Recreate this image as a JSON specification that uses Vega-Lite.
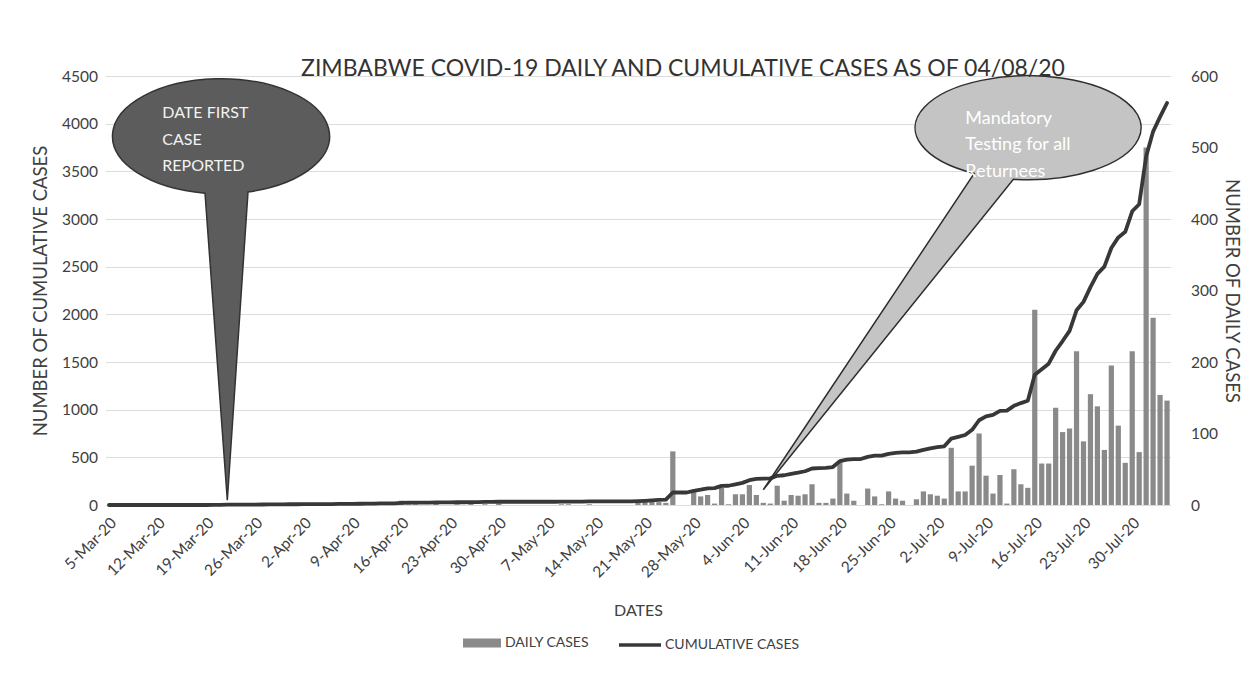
{
  "$schema": "https://vega.github.io/schema/vega-lite/v6.json",
  "width": 1065,
  "height": 429,
  "autosize": {"type": "none"},
  "padding": {"left": 105.5, "top": 76, "right": 81.5, "bottom": 177},
  "background": "white",
  "title": {"text": "ZIMBABWE COVID-19 DAILY AND CUMULATIVE CASES AS OF 04/08/20", "font": "Lato", "fontSize": 23, "fontWeight": "normal", "color": "#333333", "anchor": "middle", "dx": 45, "dy": 33, "offset": 3, "baseline": "alphabetic"},
  "config": {
    "font": "Lato",
    "view": {"stroke": null},
    "axis": {"labelFont": "Lato", "titleFont": "Lato", "labelColor": "#404040", "titleColor": "#404040", "titleFontWeight": "normal", "domain": false, "ticks": false, "labelFontSize": 15.5, "titleFontSize": 18.5, "gridColor": "#dcdcdc", "gridWidth": 1},
    "legend": {"labelFont": "Lato", "labelFontSize": 14, "labelColor": "#404040"}
  },
  "datasets": {
    "covid": [
      {"date":"5-Mar-20","daily":0,"cum":0},{"date":"6-Mar-20","daily":0,"cum":0},{"date":"7-Mar-20","daily":0,"cum":0},{"date":"8-Mar-20","daily":0,"cum":0},{"date":"9-Mar-20","daily":0,"cum":0},{"date":"10-Mar-20","daily":0,"cum":0},{"date":"11-Mar-20","daily":0,"cum":0},{"date":"12-Mar-20","daily":0,"cum":0},{"date":"13-Mar-20","daily":0,"cum":0},{"date":"14-Mar-20","daily":0,"cum":0},{"date":"15-Mar-20","daily":0,"cum":0},{"date":"16-Mar-20","daily":0,"cum":0},{"date":"17-Mar-20","daily":0,"cum":0},{"date":"18-Mar-20","daily":0,"cum":0},{"date":"19-Mar-20","daily":0,"cum":0},
      {"date":"20-Mar-20","daily":1,"cum":1},{"date":"21-Mar-20","daily":1,"cum":2},{"date":"22-Mar-20","daily":1,"cum":3},{"date":"23-Mar-20","daily":0,"cum":3},{"date":"24-Mar-20","daily":0,"cum":3},{"date":"25-Mar-20","daily":0,"cum":3},{"date":"26-Mar-20","daily":0,"cum":3},{"date":"27-Mar-20","daily":2,"cum":5},{"date":"28-Mar-20","daily":2,"cum":7},{"date":"29-Mar-20","daily":0,"cum":7},{"date":"30-Mar-20","daily":0,"cum":7},{"date":"31-Mar-20","daily":1,"cum":8},
      {"date":"1-Apr-20","daily":0,"cum":8},{"date":"2-Apr-20","daily":1,"cum":9},{"date":"3-Apr-20","daily":0,"cum":9},{"date":"4-Apr-20","daily":0,"cum":9},{"date":"5-Apr-20","daily":0,"cum":9},{"date":"6-Apr-20","daily":1,"cum":10},{"date":"7-Apr-20","daily":1,"cum":11},{"date":"8-Apr-20","daily":0,"cum":11},{"date":"9-Apr-20","daily":0,"cum":11},{"date":"10-Apr-20","daily":2,"cum":13},{"date":"11-Apr-20","daily":1,"cum":14},{"date":"12-Apr-20","daily":0,"cum":14},{"date":"13-Apr-20","daily":3,"cum":17},{"date":"14-Apr-20","daily":0,"cum":17},{"date":"15-Apr-20","daily":0,"cum":17},{"date":"16-Apr-20","daily":6,"cum":23},{"date":"17-Apr-20","daily":1,"cum":24},{"date":"18-Apr-20","daily":1,"cum":25},{"date":"19-Apr-20","daily":0,"cum":25},{"date":"20-Apr-20","daily":0,"cum":25},{"date":"21-Apr-20","daily":3,"cum":28},{"date":"22-Apr-20","daily":0,"cum":28},{"date":"23-Apr-20","daily":0,"cum":28},{"date":"24-Apr-20","daily":1,"cum":29},{"date":"25-Apr-20","daily":0,"cum":29},{"date":"26-Apr-20","daily":2,"cum":31},{"date":"27-Apr-20","daily":0,"cum":31},{"date":"28-Apr-20","daily":1,"cum":32},{"date":"29-Apr-20","daily":0,"cum":32},{"date":"30-Apr-20","daily":2,"cum":34},
      {"date":"1-May-20","daily":0,"cum":34},{"date":"2-May-20","daily":0,"cum":34},{"date":"3-May-20","daily":0,"cum":34},{"date":"4-May-20","daily":0,"cum":34},{"date":"5-May-20","daily":0,"cum":34},{"date":"6-May-20","daily":0,"cum":34},{"date":"7-May-20","daily":0,"cum":34},{"date":"8-May-20","daily":0,"cum":34},{"date":"9-May-20","daily":1,"cum":35},{"date":"10-May-20","daily":1,"cum":36},{"date":"11-May-20","daily":0,"cum":36},{"date":"12-May-20","daily":0,"cum":36},{"date":"13-May-20","daily":1,"cum":37},{"date":"14-May-20","daily":0,"cum":37},{"date":"15-May-20","daily":0,"cum":37},{"date":"16-May-20","daily":0,"cum":37},{"date":"17-May-20","daily":0,"cum":37},{"date":"18-May-20","daily":0,"cum":37},{"date":"19-May-20","daily":0,"cum":37},{"date":"20-May-20","daily":3,"cum":40},{"date":"21-May-20","daily":4,"cum":44},{"date":"22-May-20","daily":5,"cum":49},{"date":"23-May-20","daily":4,"cum":53},{"date":"24-May-20","daily":3,"cum":56},{"date":"25-May-20","daily":75,"cum":131},{"date":"26-May-20","daily":0,"cum":131},{"date":"27-May-20","daily":0,"cum":131},{"date":"28-May-20","daily":18,"cum":149},{"date":"29-May-20","daily":12,"cum":161},{"date":"30-May-20","daily":14,"cum":175},{"date":"31-May-20","daily":2,"cum":177},
      {"date":"1-Jun-20","daily":24,"cum":201},{"date":"2-Jun-20","daily":1,"cum":202},{"date":"3-Jun-20","daily":15,"cum":217},{"date":"4-Jun-20","daily":15,"cum":232},{"date":"5-Jun-20","daily":28,"cum":260},{"date":"6-Jun-20","daily":14,"cum":274},{"date":"7-Jun-20","daily":3,"cum":277},{"date":"8-Jun-20","daily":2,"cum":279},{"date":"9-Jun-20","daily":27,"cum":306},{"date":"10-Jun-20","daily":6,"cum":312},{"date":"11-Jun-20","daily":14,"cum":326},{"date":"12-Jun-20","daily":13,"cum":339},{"date":"13-Jun-20","daily":15,"cum":354},{"date":"14-Jun-20","daily":29,"cum":383},{"date":"15-Jun-20","daily":3,"cum":386},{"date":"16-Jun-20","daily":3,"cum":389},{"date":"17-Jun-20","daily":9,"cum":398},{"date":"18-Jun-20","daily":62,"cum":460},{"date":"19-Jun-20","daily":16,"cum":476},{"date":"20-Jun-20","daily":6,"cum":482},{"date":"21-Jun-20","daily":0,"cum":482},{"date":"22-Jun-20","daily":23,"cum":505},{"date":"23-Jun-20","daily":12,"cum":517},{"date":"24-Jun-20","daily":1,"cum":518},{"date":"25-Jun-20","daily":19,"cum":537},{"date":"26-Jun-20","daily":9,"cum":546},{"date":"27-Jun-20","daily":6,"cum":552},{"date":"28-Jun-20","daily":0,"cum":552},{"date":"29-Jun-20","daily":8,"cum":560},{"date":"30-Jun-20","daily":19,"cum":579},
      {"date":"1-Jul-20","daily":15,"cum":594},{"date":"2-Jul-20","daily":13,"cum":607},{"date":"3-Jul-20","daily":9,"cum":616},{"date":"4-Jul-20","daily":80,"cum":696},{"date":"5-Jul-20","daily":19,"cum":715},{"date":"6-Jul-20","daily":19,"cum":734},{"date":"7-Jul-20","daily":55,"cum":789},{"date":"8-Jul-20","daily":100,"cum":889},{"date":"9-Jul-20","daily":41,"cum":930},{"date":"10-Jul-20","daily":16,"cum":946},{"date":"11-Jul-20","daily":42,"cum":988},{"date":"12-Jul-20","daily":2,"cum":990},{"date":"13-Jul-20","daily":50,"cum":1040},{"date":"14-Jul-20","daily":29,"cum":1069},{"date":"15-Jul-20","daily":24,"cum":1093},{"date":"16-Jul-20","daily":273,"cum":1366},{"date":"17-Jul-20","daily":58,"cum":1424},{"date":"18-Jul-20","daily":58,"cum":1482},{"date":"19-Jul-20","daily":136,"cum":1618},{"date":"20-Jul-20","daily":102,"cum":1720},{"date":"21-Jul-20","daily":107,"cum":1827},{"date":"22-Jul-20","daily":215,"cum":2042},{"date":"23-Jul-20","daily":89,"cum":2131},{"date":"24-Jul-20","daily":155,"cum":2286},{"date":"25-Jul-20","daily":138,"cum":2424},{"date":"26-Jul-20","daily":77,"cum":2501},{"date":"27-Jul-20","daily":195,"cum":2696},{"date":"28-Jul-20","daily":111,"cum":2807},{"date":"29-Jul-20","daily":59,"cum":2866},{"date":"30-Jul-20","daily":215,"cum":3081},{"date":"31-Jul-20","daily":74,"cum":3155},
      {"date":"1-Aug-20","daily":500,"cum":3655},{"date":"2-Aug-20","daily":262,"cum":3917},{"date":"3-Aug-20","daily":154,"cum":4071},{"date":"4-Aug-20","daily":146,"cum":4217}
    ]
  },
  "data": {"name": "covid"},
  "layer": [
    {
      "mark": {"type": "bar"},
      "encoding": {
        "x": {"field": "date", "type": "ordinal", "sort": null,
              "scale": {"paddingInner": 0.25, "paddingOuter": 0.125},
              "axis": {"values": ["5-Mar-20","12-Mar-20","19-Mar-20","26-Mar-20","2-Apr-20","9-Apr-20","16-Apr-20","23-Apr-20","30-Apr-20","7-May-20","14-May-20","21-May-20","28-May-20","4-Jun-20","11-Jun-20","18-Jun-20","25-Jun-20","2-Jul-20","9-Jul-20","16-Jul-20","23-Jul-20","30-Jul-20"],
                       "labelAngle": -45, "labelPadding": 10, "labelOverlap": false, "labelBound": false, "title": "DATES", "titlePadding": 22, "titleFontSize": 16, "grid": false}},
        "y": {"field": "daily", "type": "quantitative", "scale": {"domain": [0, 600], "nice": false},
              "axis": {"orient": "right", "values": [0,100,200,300,400,500,600], "format": "d", "grid": false, "title": "NUMBER OF DAILY CASES", "labelPadding": 20, "titlePadding": 4}},
        "fill": {"datum": "DAILY CASES", "scale": {"range": ["#8a8a8a"]},
                 "legend": {"orient": "none", "legendX": 363.5, "legendY": 554, "title": null, "symbolType": "M-1.5,-0.35H1.5V0.35H-1.5Z", "symbolSize": 640, "symbolStrokeWidth": 0, "labelOffset": 10}}
      }
    },
    {
      "mark": {"type": "line", "strokeWidth": 3.8, "strokeJoin": "round", "strokeCap": "round"},
      "encoding": {
        "x": {"field": "date", "type": "ordinal", "sort": null},
        "y": {"field": "cum", "type": "quantitative", "scale": {"domain": [0, 4500], "nice": false},
              "axis": {"orient": "left", "values": [0,500,1000,1500,2000,2500,3000,3500,4000,4500], "format": "d", "grid": true, "title": "NUMBER OF CUMULATIVE CASES", "labelPadding": 8, "titlePadding": 11}},
        "stroke": {"datum": "CUMULATIVE CASES", "scale": {"range": ["#383838"]},
                   "legend": {"orient": "none", "legendX": 511.5, "legendY": 546, "title": null, "symbolType": "stroke", "symbolSize": 1764, "symbolStrokeWidth": 3.5, "labelOffset": 2}}
      }
    },
    {
      "transform": [{"filter": "datum.date === '22-Mar-20'"}],
      "mark": {"type": "point", "shape": "M-22.3,-307.1C-77.5,-311.5,-117.4,-337.3,-114.7,-366.8C-112,-396.3,-67.5,-419.9,-11.9,-421.4C43.8,-422.9,92.6,-401.9,101,-372.7C109.4,-343.5,74.7,-315.7,20.7,-308.3L0,0Z", "size": 4, "filled": true, "fill": "#5c5c5c", "stroke": "#333333", "strokeWidth": 1.5, "opacity": 1},
      "encoding": {
        "x": {"field": "date", "type": "ordinal", "sort": null},
        "y": {"datum": 50, "type": "quantitative", "scale": {"domain": [0, 4500], "nice": false}, "axis": null}
      }
    },
    {
      "transform": [{"filter": "datum.date === '22-Mar-20'"}],
      "mark": {"type": "text", "text": "DATE FIRST\nCASE\nREPORTED", "lineBreak": "\n", "align": "left", "baseline": "alphabetic", "dx": -65, "dy": -382, "font": "Lato", "fontSize": 16, "lineHeight": 26.5, "color": "#f2f2f2"},
      "encoding": {
        "x": {"field": "date", "type": "ordinal", "sort": null},
        "y": {"datum": 50, "type": "quantitative", "scale": {"domain": [0, 4500], "nice": false}, "axis": null}
      }
    },
    {
      "transform": [{"filter": "datum.date === '7-Jun-20'"}],
      "mark": {"type": "point", "shape": "M210.9,-316.3C159.6,-329.1,137.9,-357.8,161,-382.5C184,-407.2,244.2,-419.8,299.7,-411.5C355.3,-403.1,387.9,-376.7,375,-350.5C362.1,-324.3,308,-306.9,250.1,-310.4L0,0Z", "size": 4, "filled": true, "fill": "#c4c4c4", "stroke": "#2e2e2e", "strokeWidth": 1.5, "opacity": 1},
      "encoding": {
        "x": {"field": "date", "type": "ordinal", "sort": null},
        "y": {"datum": 160, "type": "quantitative", "scale": {"domain": [0, 4500], "nice": false}, "axis": null}
      }
    },
    {
      "transform": [{"filter": "datum.date === '7-Jun-20'"}],
      "mark": {"type": "text", "text": "Mandatory\nTesting for all\nReturnees", "lineBreak": "\n", "align": "left", "baseline": "alphabetic", "dx": 202, "dy": -366, "font": "Lato", "fontSize": 18, "lineHeight": 26.5, "color": "#ffffff"},
      "encoding": {
        "x": {"field": "date", "type": "ordinal", "sort": null},
        "y": {"datum": 160, "type": "quantitative", "scale": {"domain": [0, 4500], "nice": false}, "axis": null}
      }
    }
  ],
  "resolve": {"scale": {"y": "independent"}}
}
